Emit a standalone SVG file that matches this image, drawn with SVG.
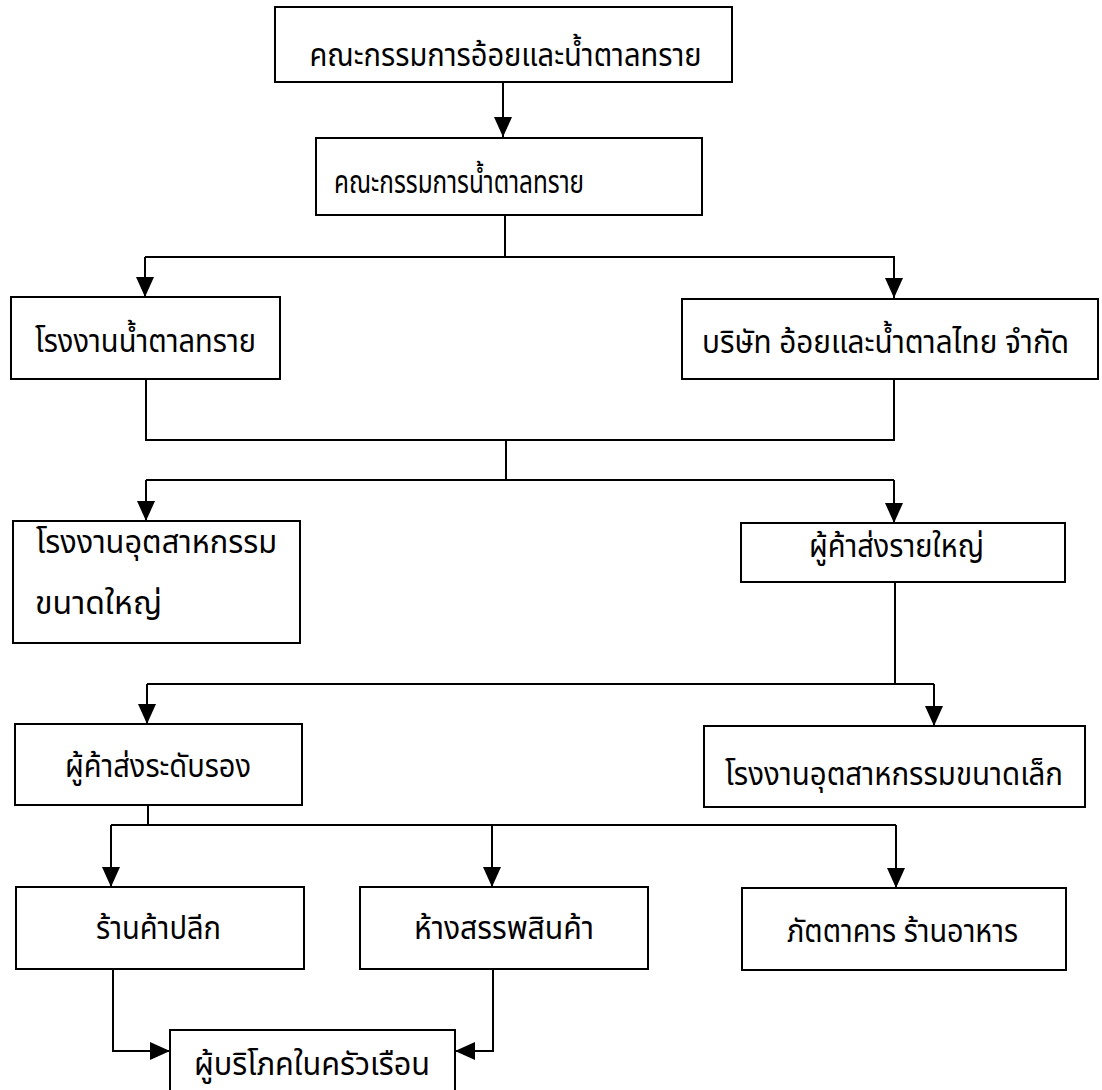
<svg xmlns="http://www.w3.org/2000/svg" width="1102" height="1090" viewBox="0 0 1102 1090">
  <style>
    .box { fill: #ffffff; stroke: #000000; stroke-width: 2; }
    .lbl { font-family: 'Noto Sans Thai', 'Noto Sans', 'DejaVu Sans', sans-serif; font-size: 32px; fill: #000000; }
    .mid { text-anchor: middle; }
    .conn { fill: none; stroke: #000000; stroke-width: 2; }
  </style>
  <defs>
    <marker id="arr" viewBox="0 0 20 18" refX="20" refY="9" markerWidth="20" markerHeight="18" markerUnits="userSpaceOnUse" orient="auto">
      <path d="M0,0 L20,9 L0,18 z" fill="#000000"/>
    </marker>
  </defs>
  <rect width="1102" height="1090" fill="#ffffff"/>

  <g id="connectors">
    <path class="conn" d="M503,82 V137" marker-end="url(#arr)"/>
    <path class="conn" d="M505,215 V257"/>
    <path class="conn" d="M145,257 H894 V298" marker-end="url(#arr)"/>
    <path class="conn" d="M145,257 V297" marker-end="url(#arr)"/>
    <path class="conn" d="M146,379 V440 H894 V379"/>
    <path class="conn" d="M506,440 V480"/>
    <path class="conn" d="M146,480 H894"/>
    <path class="conn" d="M146,480 V521" marker-end="url(#arr)"/>
    <path class="conn" d="M894,480 V523" marker-end="url(#arr)"/>
    <path class="conn" d="M895,582 V684"/>
    <path class="conn" d="M147,684 H934"/>
    <path class="conn" d="M147,684 V724" marker-end="url(#arr)"/>
    <path class="conn" d="M934,684 V726" marker-end="url(#arr)"/>
    <path class="conn" d="M148,805 V825"/>
    <path class="conn" d="M111,825 H896"/>
    <path class="conn" d="M111,825 V887" marker-end="url(#arr)"/>
    <path class="conn" d="M492,825 V887" marker-end="url(#arr)"/>
    <path class="conn" d="M896,825 V888" marker-end="url(#arr)"/>
    <path class="conn" d="M113,969 V1051 H170" marker-end="url(#arr)"/>
    <path class="conn" d="M493,969 V1051 H455" marker-end="url(#arr)"/>
  </g>

  <g id="n1">
    <rect class="box" x="275" y="7" width="457" height="75"/>
    <text class="lbl mid" x="505.5" y="66" textLength="392" lengthAdjust="spacingAndGlyphs">คณะกรรมการอ้อยและน้ำตาลทราย</text>
  </g>
  <g id="n2">
    <rect class="box" x="316" y="138" width="386" height="77"/>
    <text class="lbl mid" x="459" y="193" textLength="250" lengthAdjust="spacingAndGlyphs">คณะกรรมการน้ำตาลทราย</text>
  </g>
  <g id="n3">
    <rect class="box" x="11" y="297" width="269" height="82"/>
    <text class="lbl mid" x="145.5" y="352" textLength="221" lengthAdjust="spacingAndGlyphs">โรงงานน้ำตาลทราย</text>
  </g>
  <g id="n4">
    <rect class="box" x="682" y="299" width="416" height="80"/>
    <text class="lbl mid" x="885.5" y="353" textLength="367" lengthAdjust="spacingAndGlyphs">บริษัท อ้อยและน้ำตาลไทย จำกัด</text>
  </g>
  <g id="n5">
    <rect class="box" x="13" y="521" width="287" height="122"/>
    <text class="lbl" x="36" y="553" textLength="241" lengthAdjust="spacingAndGlyphs">โรงงานอุตสาหกรรม</text>
    <text class="lbl" x="35" y="614" textLength="127" lengthAdjust="spacingAndGlyphs">ขนาดใหญ่</text>
  </g>
  <g id="n6">
    <rect class="box" x="741" y="523" width="324" height="59"/>
    <text class="lbl mid" x="896.5" y="557" textLength="175" lengthAdjust="spacingAndGlyphs">ผู้ค้าส่งรายใหญ่</text>
  </g>
  <g id="n7">
    <rect class="box" x="15" y="724" width="287" height="81"/>
    <text class="lbl mid" x="158" y="777" textLength="186" lengthAdjust="spacingAndGlyphs">ผู้ค้าส่งระดับรอง</text>
  </g>
  <g id="n8">
    <rect class="box" x="704" y="726" width="381" height="81"/>
    <text class="lbl mid" x="894" y="785" textLength="338" lengthAdjust="spacingAndGlyphs">โรงงานอุตสาหกรรมขนาดเล็ก</text>
  </g>
  <g id="n9">
    <rect class="box" x="16" y="887" width="288" height="82"/>
    <text class="lbl mid" x="158.5" y="939" textLength="125" lengthAdjust="spacingAndGlyphs">ร้านค้าปลีก</text>
  </g>
  <g id="n10">
    <rect class="box" x="360" y="887" width="288" height="82"/>
    <text class="lbl mid" x="504" y="939" textLength="180" lengthAdjust="spacingAndGlyphs">ห้างสรรพสินค้า</text>
  </g>
  <g id="n11">
    <rect class="box" x="742" y="888" width="324" height="82"/>
    <text class="lbl mid" x="902.5" y="942" textLength="231" lengthAdjust="spacingAndGlyphs">ภัตตาคาร ร้านอาหาร</text>
  </g>
  <g id="n12">
    <rect class="box" x="170" y="1030" width="285" height="70"/>
    <text class="lbl mid" x="312" y="1075" textLength="236" lengthAdjust="spacingAndGlyphs">ผู้บริโภคในครัวเรือน</text>
  </g>
</svg>
